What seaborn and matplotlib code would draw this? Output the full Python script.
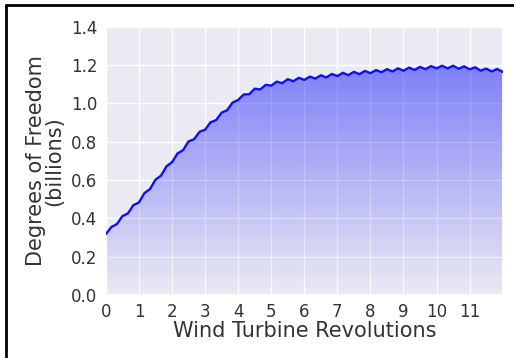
import numpy as np
import pandas as pd
import matplotlib
matplotlib.use("Agg")
import matplotlib.pyplot as plt
from matplotlib.lines import Line2D
import seaborn as sns

# ---- data (x in steps of 1/6) ----
revolutions = [k / 6 for k in range(73)]
freedom = [0.318, 0.355, 0.370, 0.412, 0.426, 0.469, 0.483, 0.532, 0.553, 0.602,
           0.623, 0.672, 0.693, 0.739, 0.756, 0.802, 0.813, 0.852, 0.863, 0.902,
           0.913, 0.952, 0.965, 1.005, 1.018, 1.047, 1.048, 1.077, 1.073, 1.097,
           1.093, 1.114, 1.106, 1.127, 1.116, 1.134, 1.123, 1.140, 1.130, 1.147,
           1.136, 1.154, 1.143, 1.160, 1.148, 1.165, 1.153, 1.170, 1.158, 1.174,
           1.163, 1.179, 1.167, 1.183, 1.171, 1.187, 1.175, 1.191, 1.179, 1.195,
           1.183, 1.197, 1.183, 1.197, 1.181, 1.194, 1.178, 1.189, 1.171, 1.182,
           1.167, 1.180, 1.165]
x_ticks = list(range(12))
y_ticks = [0.0, 0.2, 0.4, 0.6, 0.8, 1.0, 1.2, 1.4]

df = pd.DataFrame({"rev": revolutions, "dof": freedom})

sns.set_theme(style="darkgrid")
plt.rcParams['font.family'] = ['DejaVu Sans']

fig = plt.figure(figsize=(5.14, 3.58), dpi=100)
ax = fig.add_axes([0.206, 0.176, 0.772, 0.749])

# gradient fill under the curve
poly = ax.fill_between(df["rev"], df["dof"], 0, color="none", lw=0)
ymax = max(freedom)
n = 256
alpha = np.linspace(0.0, 0.46, n).reshape(n, 1)
rgba = np.zeros((n, 1, 4))
rgba[..., 2] = 1.0
rgba[..., 3] = alpha
im = ax.imshow(rgba, extent=[0, 12, 0, ymax], origin="lower", aspect="auto", zorder=1)
path = poly.get_paths()[0]
im.set_clip_path(path, transform=ax.transData)

sns.lineplot(data=df, x="rev", y="dof", color="#1010f5", lw=1.7, ax=ax, zorder=3)

ax.set_xlim(0, 12)
ax.set_ylim(0, 1.4)
ax.set_xticks(x_ticks)
ax.set_yticks(y_ticks)
ax.set_yticklabels([f"{v:.1f}" for v in y_ticks])
ax.tick_params(labelsize=12, colors="#333333", length=0)
ax.tick_params(axis="y", pad=6)
ax.tick_params(axis="x", pad=6)
ax.set_xlabel("Wind Turbine Revolutions", fontsize=15, color="#333333", labelpad=0)
ax.set_ylabel("Degrees of Freedom\n(billions)", fontsize=15, color="#333333",
              linespacing=0.9, labelpad=5)

# partial screenshot frame (left and top edges)
fig.add_artist(Line2D([0.0117, 0.0117], [0, 0.9874], color="black", lw=2,
                      transform=fig.transFigure))
fig.add_artist(Line2D([0.0117, 1.0], [0.9874, 0.9874], color="black", lw=2,
                      transform=fig.transFigure))

fig.savefig("out.png", dpi=100)
